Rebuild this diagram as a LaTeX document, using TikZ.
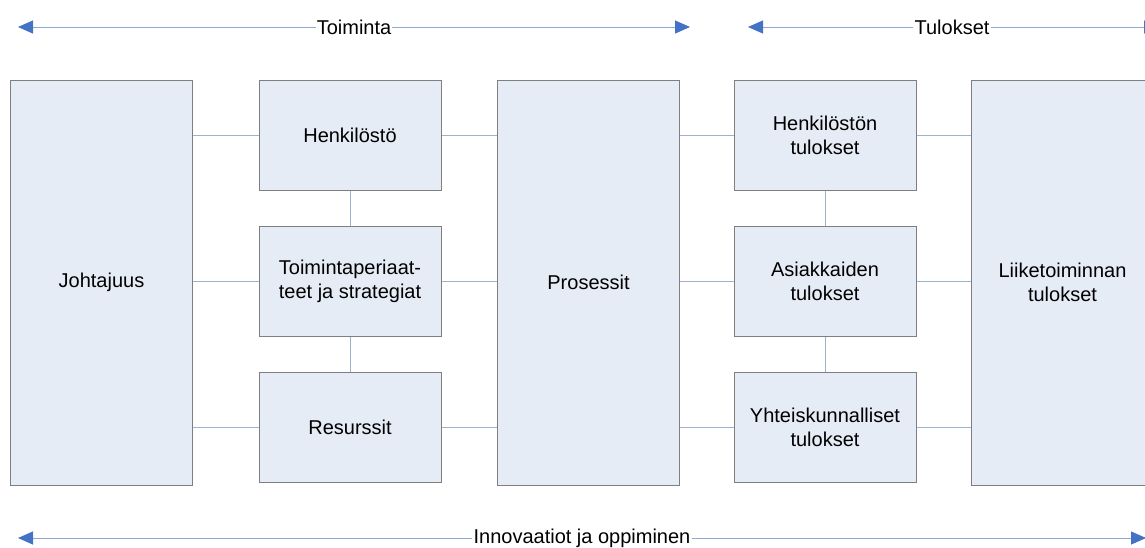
\documentclass[tikz,border=0pt]{standalone}
\usepackage{fontspec}
\setmainfont{Liberation Sans}
\usetikzlibrary{arrows.meta}
\definecolor{boxfill}{HTML}{E6ECF6}
\definecolor{boxline}{HTML}{7F7F7F}
\definecolor{linkline}{HTML}{9DB3CC}
\definecolor{axisline}{HTML}{8EA9D6}
\definecolor{axishead}{HTML}{4472C4}
\begin{document}
\begin{tikzpicture}[x=1pt,y=-1pt,
  font=\fontsize{20}{24}\selectfont,
  block/.style={draw=boxline,fill=boxfill,line width=1pt,align=center,
    inner sep=0pt,minimum width=182pt},
  tall/.style={block,minimum height=405pt},
  short/.style={block,minimum height=110pt},
  link/.style={draw=linkline,line width=1pt},
  axis/.style={draw=axisline,line width=1pt},
  axtip/.style={-{Triangle[length=15pt,width=13pt,color=axishead]}},
  axlabel/.style={inner sep=1pt}]
\clip (0,0) rectangle (1145,547);

% main columns
\node[tall]  (lead) at (101.5,282.5) {Johtajuus};
\node[short] (staff) at (350,135) {Henkilöstö};
\node[short] (policy) at (350,281) {Toimintaperiaat-\\teet ja strategiat};
\node[short] (res) at (350,427.5) {Resurssit};
\node[tall]  (proc) at (588.5,282.5) {Prosessit};
\node[short] (rstaff) at (825,135) {Henkilöstön\\tulokset};
\node[short] (rcust) at (825,281) {Asiakkaiden\\tulokset};
\node[short] (rsoc) at (825,427.5) {Yhteiskunnalliset\\tulokset};
\node[tall]  (rbiz) at (1062.5,282.5) {Liiketoiminnan\\tulokset};

% horizontal links
\foreach \b in {staff,policy,res}{
  \draw[link] (lead.east |- \b.west) -- (\b.west);
  \draw[link] (\b.east) -- (proc.west |- \b.east);
}
\foreach \b in {rstaff,rcust,rsoc}{
  \draw[link] (proc.east |- \b.west) -- (\b.west);
  \draw[link] (\b.east) -- (rbiz.west |- \b.east);
}
% vertical links
\draw[link] (staff.south) -- (policy.north);
\draw[link] (policy.south) -- (res.north);
\draw[link] (rstaff.south) -- (rcust.north);
\draw[link] (rcust.south) -- (rsoc.north);

% axes with labels
\node[axlabel] (act) at (354,27) {Toiminta};
\coordinate (actL) at (18,27);
\coordinate (actR) at (690,27);
\draw[axis,axtip] (act.west) -- (actL);
\draw[axis,axtip] (act.east) -- (actR);

\node[axlabel] (out) at (952,27) {Tulokset};
\coordinate (outL) at (748,27);
\coordinate (outR) at (1159,27);
\draw[axis,axtip] (out.west) -- (outL);
\draw[axis,axtip] (out.east) -- (outR);

\node[axlabel] (inn) at (582,538) {Innovaatiot ja oppiminen};
\coordinate (innL) at (18,538);
\coordinate (innR) at (1146,538);
\draw[axis,axtip] (inn.west) -- (innL);
\draw[axis,axtip] (inn.east) -- (innR);
\end{tikzpicture}
\end{document}
